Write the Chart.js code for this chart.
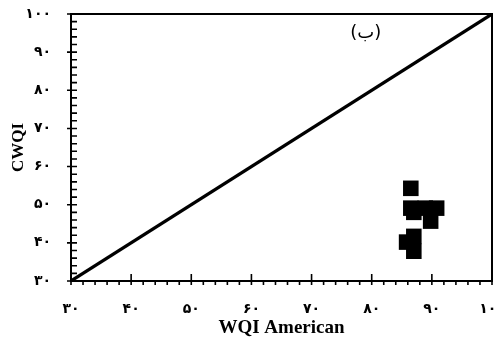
<!DOCTYPE html>
<html>
<head>
<meta charset="utf-8">
<script src="https://cdn.jsdelivr.net/npm/chart.js@4/dist/chart.umd.min.js"></script>
<style>
  html, body { margin: 0; padding: 0; background: #fff; overflow: hidden; }
  #wrap { width: 499px; height: 341px; overflow: hidden; }
</style>
</head>
<body>
<div id="wrap"><canvas id="chart" width="510" height="341"></canvas></div>
<script>
// measured points (WQI American vs CWQI)
const wqiAmerican = [86.5, 86.5, 87.0, 88.9, 90.8, 89.8, 87.0, 85.8, 87.0];
const cwqi        = [54.3, 49.1, 48.0, 49.1, 49.1, 45.7, 41.7, 40.2, 37.8];
// 1:1 reference line
const lineX = [30, 100];
const lineY = [30, 100];
const axisMin = 30, axisMax = 100;
const panelLabel = '(ب)';

const faDigits = '۰۱۲۳۴۵۶۷۸۹';
function toFa(n) {
    return String(n).replace(/[0-9]/g, d => faDigits[d]);
}

const tickFont = { family: "'DejaVu Sans', serif", size: 14, weight: 'bold' };
const serif = "'Liberation Serif', 'Times New Roman', serif";

function noPad(scale) {
    scale.paddingTop = 0;
    scale.paddingBottom = 0;
    scale.paddingLeft = 0;
    scale.paddingRight = 0;
}

// frame, inside ticks and panel label
const framePlugin = {
    id: 'frame',
    afterDraw(chart) {
        const ctx = chart.ctx;
        const a = chart.chartArea;
        const xs = chart.scales.x, ys = chart.scales.y;
        ctx.save();
        ctx.strokeStyle = '#000';
        ctx.lineWidth = 2;
        ctx.strokeRect(a.left, a.top, a.right - a.left, a.bottom - a.top);

        ctx.lineWidth = 1.6;
        ctx.beginPath();
        for (let v = axisMin; v <= axisMax; v += 2) {
            const major = (v % 10 === 0);
            const px = xs.getPixelForValue(v);
            ctx.moveTo(px, major ? a.bottom - 7 : a.bottom);
            ctx.lineTo(px, a.bottom + 4);
            const py = ys.getPixelForValue(v);
            ctx.moveTo(major ? a.left - 4 : a.left, py);
            ctx.lineTo(a.left + 6, py);
        }
        ctx.stroke();

        ctx.fillStyle = '#000';
        ctx.font = "18px 'DejaVu Sans', serif";
        ctx.textAlign = 'center';
        ctx.textBaseline = 'middle';
        ctx.fillText(panelLabel, xs.getPixelForValue(79), ys.getPixelForValue(95));
        ctx.restore();
    }
};

const ctx = document.getElementById('chart').getContext('2d');
new Chart(ctx, {
    type: 'scatter',
    data: {
        datasets: [
            {
                type: 'line',
                data: lineX.map((x, i) => ({ x: x, y: lineY[i] })),
                borderColor: '#000',
                borderWidth: 3.2,
                pointRadius: 0,
                fill: false
            },
            {
                data: wqiAmerican.map((x, i) => ({ x: x, y: cwqi[i] })),
                pointStyle: 'rect',
                pointRadius: 11,
                pointHoverRadius: 11,
                backgroundColor: '#000',
                borderColor: '#000',
                borderWidth: 0
            }
        ]
    },
    options: {
        responsive: false,
        animation: false,
        layout: { padding: { top: 14, right: 18, left: 0, bottom: 0 } },
        plugins: {
            legend: { display: false },
            tooltip: { enabled: false }
        },
        scales: {
            x: {
                type: 'linear',
                min: axisMin,
                max: axisMax,
                grid: { display: false, drawTicks: false },
                border: { display: false },
                ticks: {
                    stepSize: 10,
                    padding: 20,
                    color: '#000',
                    font: tickFont,
                    maxRotation: 0,
                    callback: v => toFa(v)
                },
                title: {
                    display: true,
                    text: 'WQI American',
                    color: '#000',
                    font: { family: serif, size: 19, weight: 'bold' },
                    padding: { top: 0, bottom: 1.6 }
                },
                afterFit(scale) { scale.height = 60; noPad(scale); }
            },
            y: {
                type: 'linear',
                min: axisMin,
                max: axisMax,
                grid: { display: false, drawTicks: false },
                border: { display: false },
                ticks: {
                    stepSize: 10,
                    padding: 20,
                    color: '#000',
                    font: tickFont,
                    callback: v => toFa(v)
                },
                title: {
                    display: true,
                    text: 'CWQI',
                    color: '#000',
                    font: { family: serif, size: 17, weight: 'bold' },
                    padding: { top: 8, bottom: 2 }
                },
                afterFit(scale) { scale.width = 71; noPad(scale); }
            }
        }
    },
    plugins: [framePlugin]
});
</script>
</body>
</html>
